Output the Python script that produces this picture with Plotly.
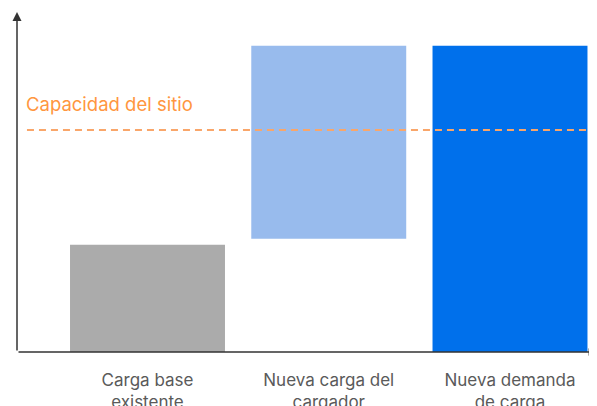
import plotly.graph_objects as go

categories = ["Carga base<br>existente", "Nueva carga del<br>cargador", "Nueva demanda<br>de carga"]
bar_base = [0, 37, 0]
bar_top = [35, 100, 100]
bar_colors = ["#ABABAB", "#98BBED", "#0070EB"]
capacity = 72.5
capacity_label = "Capacidad del sitio"

x_pos = list(range(len(categories)))
x_range = [-0.72, 2.48]
y_range = [0, 111]

FONT = "Inter, sans-serif"

fig = go.Figure()
fig.add_trace(go.Bar(
    x=x_pos,
    y=[t - b for t, b in zip(bar_top, bar_base)],
    base=bar_base,
    width=0.855,
    marker=dict(color=bar_colors, line=dict(width=0)),
    hoverinfo="skip",
))

# capacity dashed line
fig.add_shape(type="line", xref="x", yref="y",
              x0=-0.665, x1=x_range[1], y0=capacity, y1=capacity,
              line=dict(color="#F9A66A", width=2, dash="7px,5px"))
fig.add_annotation(x=-0.665, y=81.0, xref="x", yref="y", text=capacity_label,
                   showarrow=False, xanchor="left", yanchor="middle", xshift=-3,
                   font=dict(color="#FF9640", size=18.5, family=FONT))

# axis arrows
fig.add_annotation(x=x_range[0], y=y_range[1], ax=x_range[0], ay=0,
                   xref="x", yref="y", axref="x", ayref="y", text="",
                   showarrow=True, arrowhead=2, arrowsize=1.2, arrowwidth=1.5,
                   arrowcolor="#333333")
fig.add_annotation(x=x_range[1] - 0.005, y=0, ax=x_range[0], ay=0,
                   xref="x", yref="y", axref="x", ayref="y", text="",
                   showarrow=True, arrowhead=2, arrowsize=1.0, arrowwidth=1.5,
                   arrowcolor="#333333")

fig.update_layout(
    width=589, height=398,
    margin=dict(l=9, r=0, t=4, b=54),
    plot_bgcolor="white", paper_bgcolor="white",
    showlegend=False,
    font=dict(family=FONT, color="#5A5A5A", size=17),
    xaxis=dict(range=x_range, tickvals=x_pos, ticktext=categories, automargin=False,
               showgrid=False, zeroline=False, showline=False, ticks="",
               tickfont=dict(size=17, color="#5A5A5A"), ticklabelstandoff=16),
    yaxis=dict(range=y_range, showgrid=False, zeroline=False, showline=False,
               showticklabels=False, ticks="", automargin=False),
)

fig.write_html("out.html")
